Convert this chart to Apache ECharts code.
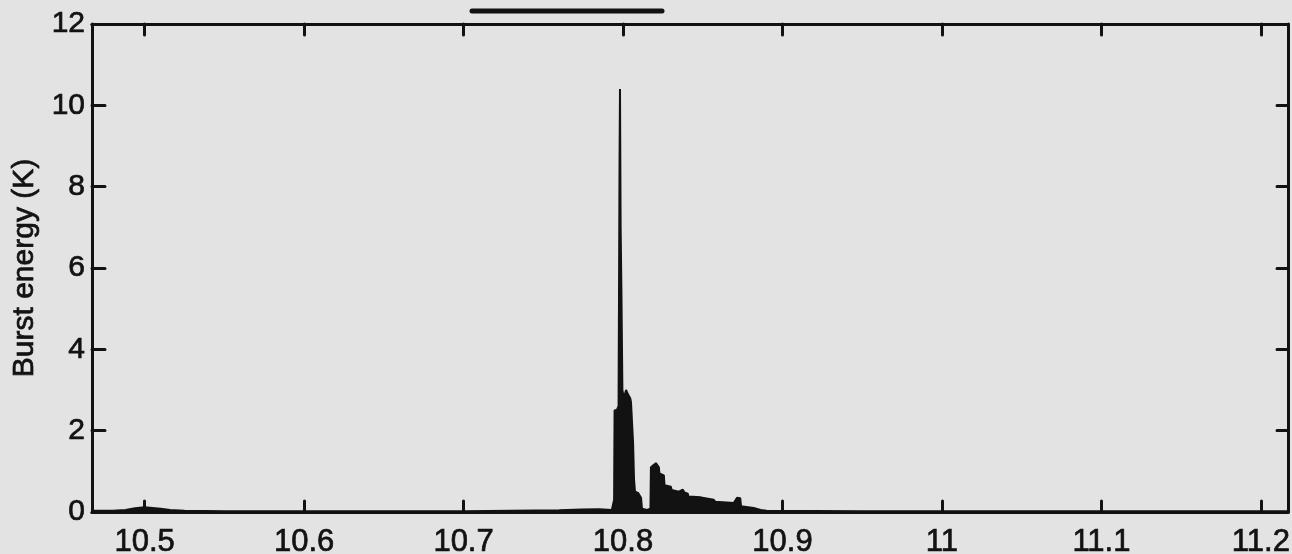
<!DOCTYPE html>
<html>
<head>
<meta charset="utf-8">
<title>Burst energy</title>
<script src="https://cdn.jsdelivr.net/npm/echarts@6/dist/echarts.min.js"></script>
<style>
  html, body { margin: 0; padding: 0; background: #e3e3e3; }
  #chart { width: 1292px; height: 554px; }
</style>
</head>
<body>
<div id="chart"></div>
<script>
// Time axis (same units as the tick labels) and burst energy in K
const times = [
  10.467, 10.48, 10.488, 10.494, 10.5, 10.505, 10.51, 10.516, 10.525, 10.55,
  10.6, 10.65, 10.7, 10.73, 10.76, 10.774, 10.785, 10.793,
  10.7944, 10.7947, 10.796, 10.7972, 10.7978, 10.7981, 10.7985, 10.799, 10.7996,
  10.8005, 10.8019, 10.803, 10.8045, 10.805, 10.8063, 10.8069, 10.8075, 10.8094,
  10.8113, 10.8119, 10.815, 10.8172, 10.8175, 10.819, 10.8206, 10.8225, 10.8228,
  10.8256, 10.826, 10.83, 10.8305, 10.835, 10.8375, 10.8385, 10.8406, 10.841,
  10.8488, 10.8569, 10.858, 10.8694, 10.8715, 10.8735, 10.874, 10.8819, 10.8863,
  10.89, 10.95, 11.0, 11.1, 11.217
];
const energy = [
  0.03, 0.03, 0.05, 0.09, 0.12, 0.10, 0.08, 0.05, 0.03, 0.02,
  0.02, 0.02, 0.02, 0.03, 0.04, 0.06, 0.07, 0.05,
  0.3, 2.5, 2.5, 2.6, 8.5, 10.4, 7.0, 5.4, 3.0,
  2.8, 3.0, 2.9, 2.8, 2.7, 1.7, 0.8, 0.5, 0.47,
  0.35, 0.08, 0.05, 0.08, 1.1, 1.15, 1.2, 1.1, 0.95,
  0.9, 0.66, 0.62, 0.54, 0.5, 0.55, 0.48, 0.45, 0.38,
  0.36, 0.3, 0.25, 0.22, 0.35, 0.34, 0.14, 0.1, 0.05,
  0.03, 0.02, 0.02, 0.02, 0.02
];
const xTicks = [10.5, 10.6, 10.7, 10.8, 10.9, 11.0, 11.1, 11.2];
const xMin = 10.467, xMax = 11.217;
const yMin = 0, yMax = 12, yStep = 2;

const ink = '#121212';
const font = 'Liberation Sans, Arial, Helvetica, sans-serif';
// a thin outline in the ink colour gives the printed, slightly heavy glyphs
const heavy = { textBorderColor: ink, textBorderWidth: 0.7 };

const points = times.map((t, i) => [t, energy[i]]);

const tickStyle = { show: true, inside: true, length: 11, lineStyle: { color: ink, width: 3, cap: 'round' } };
const lineStyle = { show: true, onZero: false, lineStyle: { color: ink, width: 3 } };

const chart = echarts.init(document.getElementById('chart'), null, { renderer: 'canvas' });
chart.setOption({
  backgroundColor: '#e3e3e3',
  animation: false,
  grid: { left: 92, right: 4, top: 24, bottom: 42, containLabel: false, outerBoundsMode: 'none' },
  xAxis: [
    {
      type: 'value', position: 'bottom', min: xMin, max: xMax,
      axisLine: lineStyle,
      axisTick: Object.assign({ customValues: xTicks }, tickStyle),
      axisLabel: Object.assign({
        customValues: xTicks, color: ink, fontSize: 31, fontFamily: font, margin: 15,
        formatter: v => String(Math.round(v * 10) / 10)
      }, heavy),
      splitLine: { show: false }
    },
    {
      type: 'value', position: 'top', min: xMin, max: xMax,
      axisLine: lineStyle,
      axisTick: Object.assign({ customValues: xTicks }, tickStyle),
      axisLabel: { show: false },
      splitLine: { show: false }
    }
  ],
  yAxis: [
    {
      type: 'value', position: 'left', min: yMin, max: yMax, interval: yStep,
      name: 'Burst energy (K)', nameLocation: 'middle', nameGap: 50,
      nameTextStyle: Object.assign({ color: ink, fontSize: 30, fontFamily: font }, heavy),
      axisLine: lineStyle,
      axisTick: Object.assign({}, tickStyle, { length: 13 }),
      axisLabel: Object.assign({ color: ink, fontSize: 30, fontFamily: font, margin: 7 }, heavy),
      splitLine: { show: false }
    },
    {
      type: 'value', position: 'right', min: yMin, max: yMax, interval: yStep,
      axisLine: lineStyle,
      axisTick: tickStyle,
      axisLabel: { show: false },
      splitLine: { show: false }
    }
  ],
  series: [
    {
      type: 'line',
      data: points,
      xAxisIndex: 0,
      yAxisIndex: 0,
      symbol: 'none',
      smooth: false,
      lineStyle: { color: ink, width: 2 },
      areaStyle: { color: ink, opacity: 1, origin: 0 },
      z: 1
    }
  ],
  graphic: [
    {
      type: 'line',
      shape: { x1: 472, y1: 11, x2: 662, y2: 11 },
      style: { stroke: ink, lineWidth: 5, lineCap: 'round' }
    }
  ]
});
</script>
</body>
</html>
